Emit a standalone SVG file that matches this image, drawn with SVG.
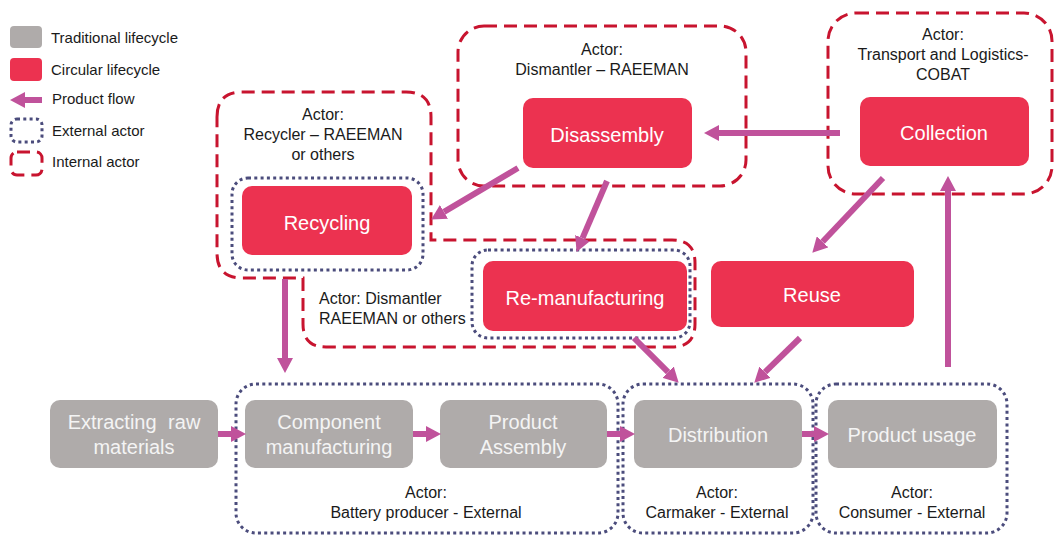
<svg xmlns="http://www.w3.org/2000/svg" width="1055" height="535" viewBox="0 0 1055 535">
  <style>
    text { font-family: "Liberation Sans", Arial, sans-serif; }
    .trad { fill: #afabaa; }
    .circ { fill: #ec3250; }
    .nlabel { font-size: 20px; fill: #ffffff; text-anchor: middle; }
    .tlabel { font-size: 20px; fill: #f4f4f4; text-anchor: middle; }
    .alabel { font-size: 16px; fill: #1a1a1a; text-anchor: middle; }
    .alabel-left { font-size: 16px; fill: #1a1a1a; text-anchor: start; }
    .legend { font-size: 15px; fill: #1a1a1a; }
    .internal { fill: none; stroke: #c8142f; stroke-width: 3; stroke-dasharray: 13 7; }
    .external { fill: none; stroke: #4b4c7c; stroke-width: 3; stroke-dasharray: 3 3.3; }
    .flow { fill: none; stroke: #c0529b; stroke-width: 6; marker-end: url(#head); }
  </style>
  <defs>
    <marker id="head" markerUnits="userSpaceOnUse" markerWidth="15" markerHeight="16" refX="0" refY="8" orient="auto">
      <path d="M0,0 L15,8 L0,16 Z" fill="#c0529b"/>
    </marker>
  </defs>

  <rect width="1055" height="535" fill="#ffffff"/>

  <!-- Legend -->
  <g id="legend">
    <rect x="10" y="26" width="32" height="22" rx="4" class="trad"/>
    <text x="51" y="43" class="legend">Traditional lifecycle</text>
    <rect x="10" y="58" width="32" height="23" rx="4" class="circ"/>
    <text x="51" y="75" class="legend">Circular lifecycle</text>
    <line x1="42" y1="100" x2="25" y2="100" class="flow"/>
    <text x="52" y="104" class="legend">Product flow</text>
    <rect x="11" y="119" width="31" height="23" rx="6" class="external"/>
    <text x="52" y="136" class="legend">External actor</text>
    <rect x="11" y="152" width="31" height="23" rx="6" class="internal"/>
    <text x="52" y="167" class="legend">Internal actor</text>
  </g>

  <!-- Internal actors -->
  <g id="actor-dismantler">
    <rect x="458" y="26" width="288" height="160" rx="26" class="internal"/>
    <text x="602" y="55" class="alabel">Actor:</text>
    <text x="602" y="75" class="alabel">Dismantler – RAEEMAN</text>
  </g>
  <g id="actor-cobat">
    <rect x="828" y="13" width="224" height="181" rx="28" class="internal"/>
    <text x="943" y="40" class="alabel">Actor:</text>
    <text x="943" y="60" class="alabel">Transport and Logistics-</text>
    <text x="943" y="80" class="alabel">COBAT</text>
  </g>
  <g id="actor-recycler">
    <path d="M217,117 Q217,92 242,92 L406,92 Q431,92 431,117 L431,240 L672,240 Q695,240 695,263 L695,324 Q695,347 672,347 L326,347 Q303,347 303,324 L303,278 L242,278 Q217,278 217,253 Z" class="internal"/>
    <text x="323" y="120" class="alabel">Actor:</text>
    <text x="323" y="140" class="alabel">Recycler – RAEEMAN</text>
    <text x="323" y="160" class="alabel">or others</text>
    <text x="319" y="304" class="alabel-left">Actor: Dismantler</text>
    <text x="319" y="324" class="alabel-left">RAEEMAN or others</text>
  </g>

  <!-- External actors -->
  <g id="actor-battery">
    <rect x="236" y="384" width="382" height="149" rx="20" class="external"/>
    <text x="426" y="498" class="alabel">Actor:</text>
    <text x="426" y="518" class="alabel">Battery producer - External</text>
  </g>
  <g id="actor-carmaker">
    <rect x="623" y="384" width="190" height="149" rx="20" class="external"/>
    <text x="717" y="498" class="alabel">Actor:</text>
    <text x="717" y="518" class="alabel">Carmaker - External</text>
  </g>
  <g id="actor-consumer">
    <rect x="816" y="384" width="191" height="149" rx="20" class="external"/>
    <text x="912" y="498" class="alabel">Actor:</text>
    <text x="912" y="518" class="alabel">Consumer - External</text>
  </g>
  <g id="actor-recycling-ext">
    <rect x="232" y="178" width="191" height="92" rx="16" class="external"/>
  </g>
  <g id="actor-remanufacturing-ext">
    <rect x="472" y="250" width="218" height="88" rx="16" class="external"/>
  </g>

  <!-- Traditional lifecycle nodes -->
  <g id="node-extracting">
    <rect x="50" y="400" width="168" height="68" rx="10" class="trad"/>
    <text x="134" y="429" class="tlabel" word-spacing="6">Extracting raw</text>
    <text x="134" y="454" class="tlabel">materials</text>
  </g>
  <g id="node-component">
    <rect x="245" y="400" width="168" height="68" rx="10" class="trad"/>
    <text x="329" y="429" class="tlabel">Component</text>
    <text x="329" y="454" class="tlabel">manufacturing</text>
  </g>
  <g id="node-assembly">
    <rect x="440" y="400" width="167" height="68" rx="10" class="trad"/>
    <text x="523" y="429" class="tlabel">Product</text>
    <text x="523" y="454" class="tlabel">Assembly</text>
  </g>
  <g id="node-distribution">
    <rect x="634" y="400" width="168" height="68" rx="10" class="trad"/>
    <text x="718" y="442" class="tlabel">Distribution</text>
  </g>
  <g id="node-usage">
    <rect x="828" y="400" width="169" height="68" rx="10" class="trad"/>
    <text x="912" y="442" class="tlabel">Product usage</text>
  </g>

  <!-- Circular lifecycle nodes -->
  <g id="node-disassembly">
    <rect x="523" y="98" width="169" height="70" rx="10" class="circ"/>
    <text x="607" y="142" class="nlabel">Disassembly</text>
  </g>
  <g id="node-collection">
    <rect x="860" y="97" width="169" height="69" rx="10" class="circ"/>
    <text x="944" y="140" class="nlabel">Collection</text>
  </g>
  <g id="node-recycling">
    <rect x="242" y="186" width="170" height="69" rx="10" class="circ"/>
    <text x="327" y="230" class="nlabel">Recycling</text>
  </g>
  <g id="node-remanufacturing">
    <rect x="483" y="261" width="204" height="70" rx="10" class="circ"/>
    <text x="585" y="305" class="nlabel">Re-manufacturing</text>
  </g>
  <g id="node-reuse">
    <rect x="711" y="261" width="203" height="66" rx="10" class="circ"/>
    <text x="812" y="302" class="nlabel">Reuse</text>
  </g>

  <!-- Product flow connectors -->
  <g id="connectors">
    <line x1="218" y1="434" x2="231" y2="434" class="flow"/>
    <line x1="413" y1="434" x2="426" y2="434" class="flow"/>
    <line x1="607" y1="434" x2="620" y2="434" class="flow"/>
    <line x1="802" y1="434" x2="814" y2="434" class="flow"/>
    <line x1="948" y1="367" x2="948" y2="191" class="flow"/>
    <line x1="840" y1="133" x2="719" y2="133" class="flow"/>
    <line x1="883" y1="178" x2="822.6" y2="241.8" class="flow"/>
    <line x1="518" y1="168" x2="444" y2="211.9" class="flow"/>
    <line x1="607" y1="181" x2="582.5" y2="238.1" class="flow"/>
    <line x1="285" y1="279" x2="285" y2="358" class="flow"/>
    <line x1="634" y1="338" x2="668.1" y2="372.1" class="flow"/>
    <line x1="800" y1="338" x2="765" y2="372.2" class="flow"/>
  </g>
</svg>
